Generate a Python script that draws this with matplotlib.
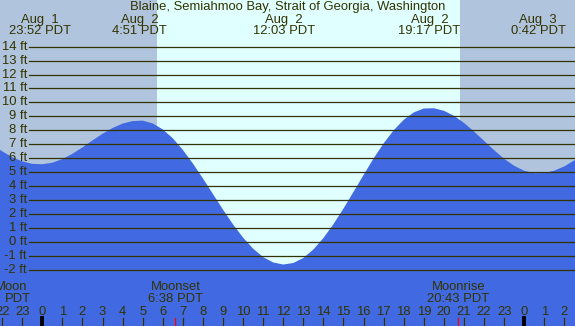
import numpy as np
import matplotlib
matplotlib.use('Agg')
from matplotlib import pyplot as plt

plt.rcParams['font.family'] = ['Liberation Sans', 'DejaVu Sans']
plt.rcParams['font.size'] = 9.4

# tide heights (ft), every half hour, hours from Aug 2 00:00
hours = np.arange(-2.5, 27.01, 0.5)
heights = [6.98, 6.49, 6.07, 5.77, 5.59,
           5.56, 5.67, 5.93, 6.31, 6.77, 7.27, 7.75, 8.16, 8.48, 8.66,
           8.69, 8.49, 8.06, 7.42, 6.59, 5.61, 4.54, 3.42, 2.30, 1.24,
           0.29, -0.50, -1.11, -1.49, -1.64, -1.53, -1.17, -0.56, 0.26, 1.26,
           2.38, 3.58, 4.79, 5.98, 7.06, 8.00, 8.75, 9.28, 9.56, 9.58,
           9.40, 9.04, 8.53, 7.91, 7.24, 6.57, 5.95, 5.45, 5.09, 4.92,
           4.93, 5.10, 5.41, 5.84, 6.36]

# high / low tide labels
tide_days = ['Aug  1', 'Aug  2', 'Aug  2', 'Aug  2', 'Aug  3']
tide_times = ['23:52 PDT', '4:51 PDT', '12:03 PDT', '19:17 PDT', '0:42 PDT']
tide_hours = [-0.133, 4.85, 12.05, 19.283, 24.7]

# moon events
moon_names = ['Moonset', 'Moonrise']
moon_times = ['6:38 PDT', '20:43 PDT']
moon_hours = [6.633, 20.717]

sunrise = 5.70
sunset = 20.80

levels = list(range(-2, 15))
hour_ticks = list(range(-2, 27))

title = 'Blaine, Semiahmoo Bay, Strait of Georgia, Washington'

W, H = 575, 326
x0, px_hr = 42.3, 20.08       # pixel of hour 0, pixels per hour
y0, px_ft = 241.7, 13.93      # pixel of 0 ft, pixels per foot

night = '#b0c4de'
day = '#e0ffff'
water = '#4169e1'
ink = '#333300'

fig = plt.figure(figsize=(W / 100, H / 100), dpi=100)
ax = fig.add_axes([0, 0, 1, 1])
ax.set_xlim(-x0 / px_hr, (W - x0) / px_hr)
ax.set_ylim(-(H - y0) / px_ft, y0 / px_ft)
ax.axis('off')

xmin, xmax = ax.get_xlim()
ax.axvspan(xmin, sunrise, color=night, lw=0)
ax.axvspan(sunrise, sunset, color=day, lw=0)
ax.axvspan(sunset, xmax, color=night, lw=0)

ax.fill_between(hours, heights, -20, color=water, lw=0)

# grid lines and ft labels
for v in levels:
    ax.axhline(v, xmin=29 / W, xmax=1, color=ink, lw=0.9)
    ax.text(27 / W, v, '%d ft' % v, transform=ax.get_yaxis_transform(),
            ha='right', va='center', color=ink)

tx = ax.get_xaxis_transform()
ax.text(0.5, 1 - 7 / H, title, transform=ax.transAxes, ha='center', va='center', color=ink)
for d, t, h in zip(tide_days, tide_times, tide_hours):
    ax.text(h, 1 - 19.5 / H, d, transform=tx, ha='center', va='center', color=ink)
    ax.text(h, 1 - 31 / H, t, transform=tx, ha='center', va='center', color=ink)

for n, t, h in zip(moon_names, moon_times, moon_hours):
    ax.text(h, 1 - 287.5 / H, n, transform=tx, ha='center', va='center', color=ink)
    ax.text(h, 1 - 299.5 / H, t, transform=tx, ha='center', va='center', color=ink)
    ax.axvline(h, ymin=0, ymax=8 / H, color='red', lw=0.9)

# partially cut moon label at left edge
ax.text(27 / W, 1 - 287.5 / H, 'Moon', transform=ax.transAxes, ha='right', va='center', color=ink)
ax.text(30.5 / W, 1 - 299.5 / H, 'PDT', transform=ax.transAxes, ha='right', va='center', color=ink)

# hour ticks
for h in hour_ticks:
    ax.text(h, 1 - 312 / H, str(h % 24), transform=tx, ha='center', va='center', color=ink)
    if h % 24 == 0:
        ax.axvline(h, ymin=0, ymax=8 / H, color='black', lw=2.8)
    else:
        ax.axvline(h, ymin=0, ymax=8 / H, color=ink, lw=0.9)

fig.savefig('out.png', dpi=100)
